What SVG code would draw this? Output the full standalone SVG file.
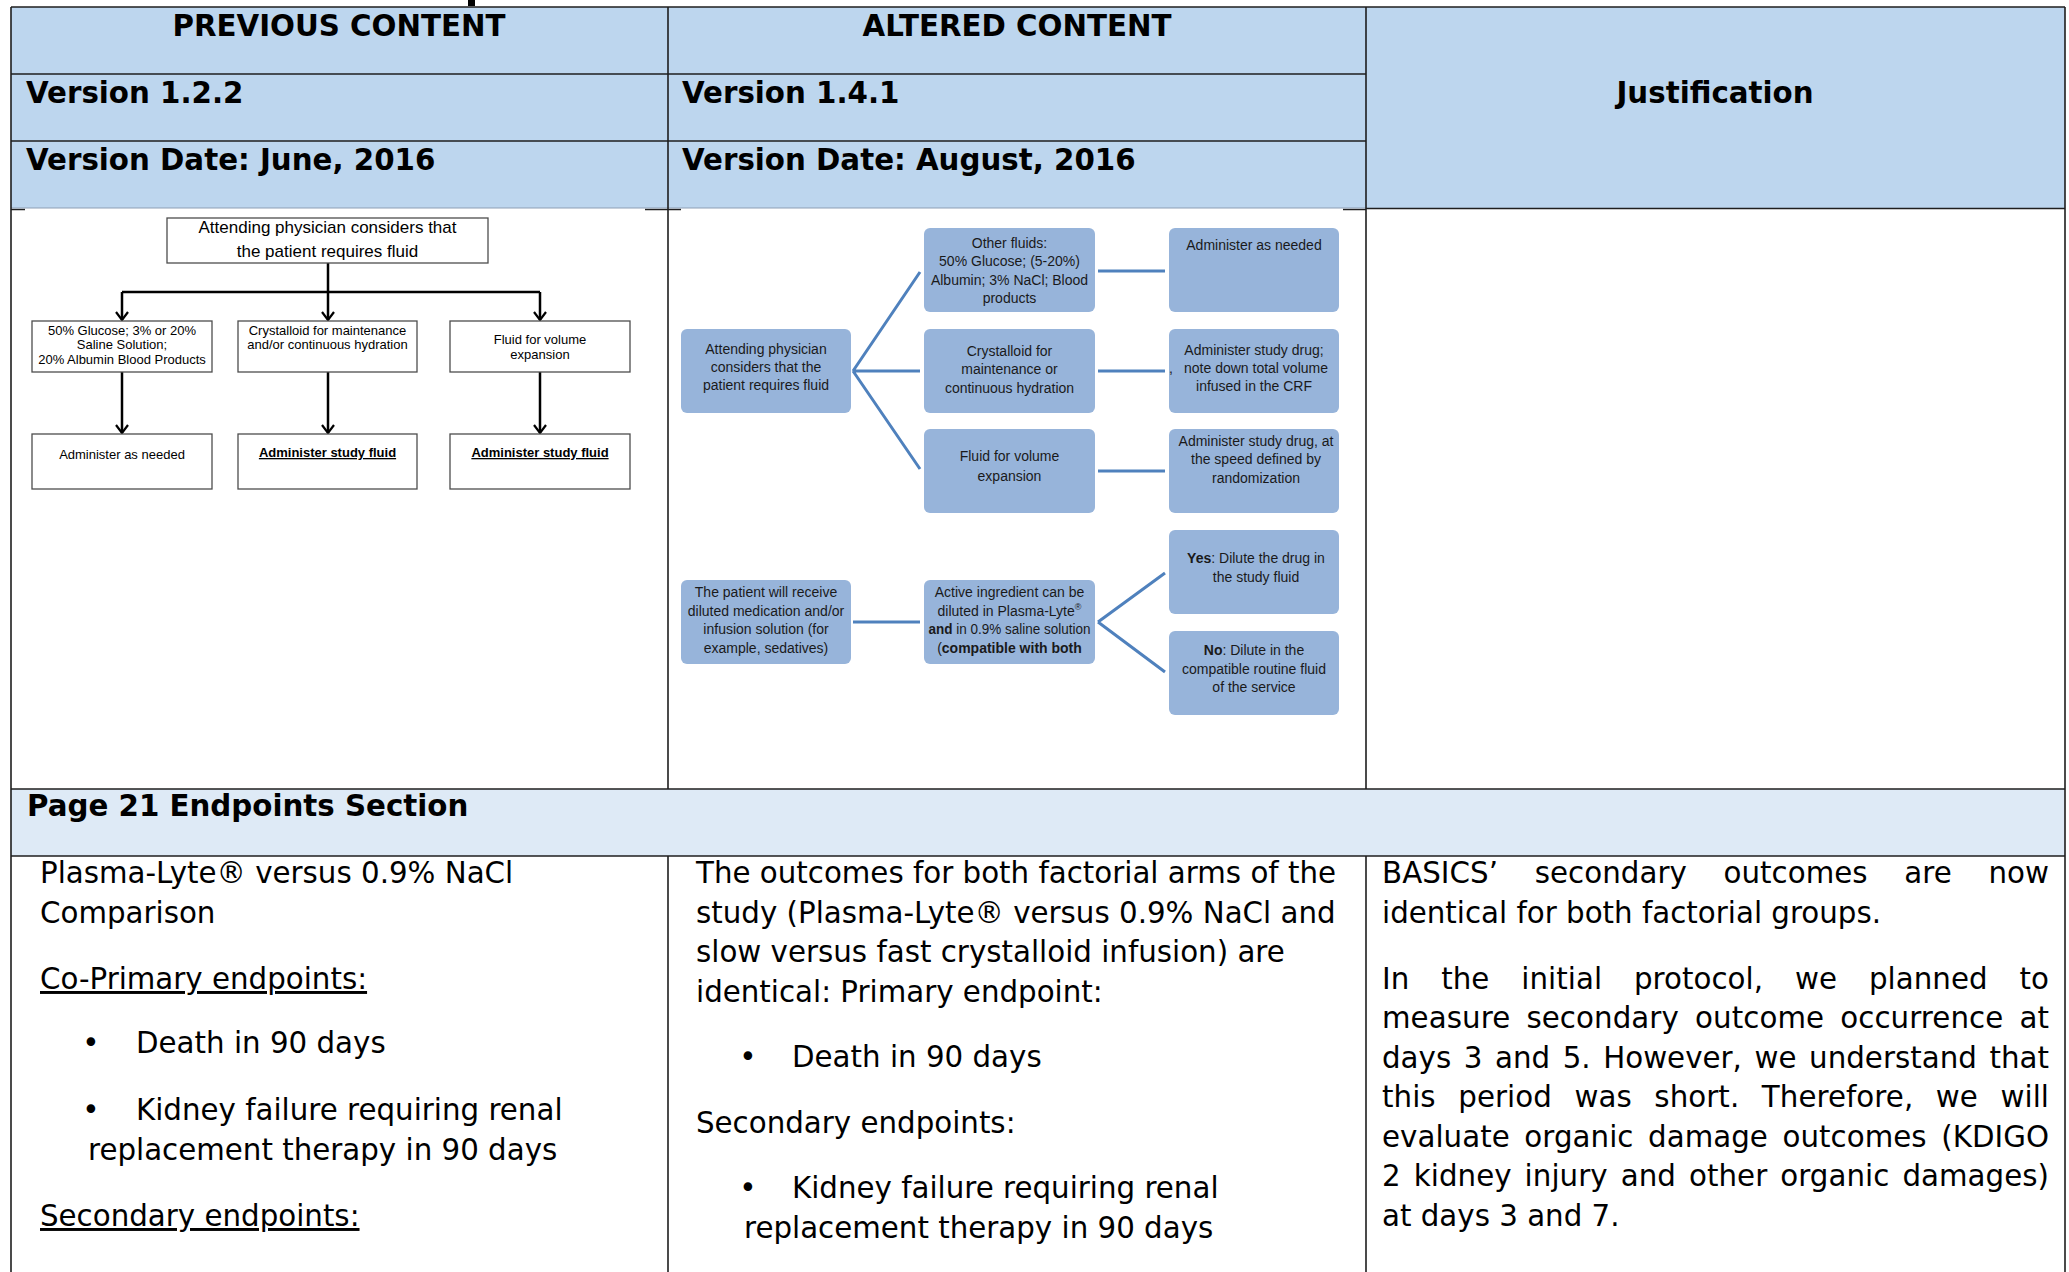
<svg xmlns="http://www.w3.org/2000/svg" width="2069" height="1272" viewBox="0 0 2069 1272">
<style>
.hdr{font-family:"DejaVu Sans","Liberation Sans",sans-serif;font-weight:bold;font-size:29.3px;fill:#000}
.body{font-family:"DejaVu Sans","Liberation Sans",sans-serif;font-size:29.3px;fill:#000}
.ul{text-decoration:underline}
.f1{font-family:"Liberation Sans",Arial,sans-serif;fill:#000;text-anchor:middle}
.f2{font-family:"Liberation Sans",Arial,sans-serif;font-size:14px;fill:#1a1a1a;text-anchor:middle}
.b1{fill:#fff;stroke:#4d4d4d;stroke-width:1.3}
.b2{fill:#97B4DA}
.c1{stroke:#000;stroke-width:2.5;fill:none}
.c2{stroke:#4F81BD;stroke-width:3;fill:none}
.grid{stroke:#1f1f1f;stroke-width:1.6;fill:none}
</style>
<defs>
<marker id="ah" viewBox="0 0 12 14" refX="11" refY="7" markerWidth="12" markerHeight="14" markerUnits="userSpaceOnUse" orient="auto">
<path d="M3,1 L11,7 L3,13" fill="none" stroke="#000" stroke-width="2.2"/>
</marker>
</defs>
<rect x="0" y="0" width="2069" height="1272" fill="#fff"/>
<rect x="468" y="0" width="7" height="6" fill="#000"/>

<g id="table">
<rect x="11" y="7" width="2054" height="201" fill="#BDD6EE"/>
<rect x="11" y="789" width="2054" height="67" fill="#DEEAF6"/>
<path class="grid" d="M11,7 H2065 M11,74 H1366 M11,141 H1366 M1366,208.5 H2065 M11,209.5 H25 M645,209.5 H681 M1343,209.5 H1366 M11,789 H2065 M11,856 H2065"/>
<path d="M11,208 H1366" stroke="#8d9fb5" stroke-width="1"/>
<path class="grid" d="M11,7 V1272 M2065,7 V1272 M668,7 V789 M668,856 V1272 M1366,7 V789 M1366,856 V1272"/>
</g>

<g id="header">
<text class="hdr" x="339" y="36" text-anchor="middle">PREVIOUS CONTENT</text>
<text class="hdr" x="1017" y="36" text-anchor="middle">ALTERED CONTENT</text>
<text class="hdr" x="26" y="103">Version 1.2.2</text>
<text class="hdr" x="26" y="170">Version Date: June, 2016</text>
<text class="hdr" x="682" y="103">Version 1.4.1</text>
<text class="hdr" x="682" y="170">Version Date: August, 2016</text>
<text class="hdr" x="1715" y="103" text-anchor="middle">Justification</text>
<text class="hdr" x="27" y="816">Page 21 Endpoints Section</text>
</g>

<g id="connectors">
<path class="c1" d="M328,263 V292 M122,292 H540"/>
<path class="c1" d="M122,292 V320" marker-end="url(#ah)"/>
<path class="c1" d="M328,292 V320" marker-end="url(#ah)"/>
<path class="c1" d="M540,292 V320" marker-end="url(#ah)"/>
<path class="c1" d="M122,372 V433" marker-end="url(#ah)"/>
<path class="c1" d="M328,372 V433" marker-end="url(#ah)"/>
<path class="c1" d="M540,372 V433" marker-end="url(#ah)"/>
<path class="c2" d="M853,371 L920,272 M853,371 L920,371 M853,371 L920,469"/>
<path class="c2" d="M1098,271 H1165 M1098,371 H1165 M1098,471 H1165"/>
<path class="c2" d="M853,622 H920"/>
<path class="c2" d="M1098,622 L1165,573 M1098,622 L1165,672"/>
</g>

<g id="old-start">
<rect class="b1" x="167" y="218" width="321" height="45"/>
<text class="f1" font-size="17" x="327.5" y="233">Attending physician considers that</text>
<text class="f1" font-size="17" x="327.5" y="257">the patient requires fluid</text>
</g>
<g id="old-other">
<rect class="b1" x="32" y="321" width="180" height="51"/>
<text class="f1" font-size="13" x="122" y="335">50% Glucose; 3% or 20%</text>
<text class="f1" font-size="13" x="122" y="349">Saline Solution;</text>
<text class="f1" font-size="13" x="122" y="364">20% Albumin Blood Products</text>
</g>
<g id="old-crystalloid">
<rect class="b1" x="238" y="321" width="179" height="51"/>
<text class="f1" font-size="13" x="327.5" y="335">Crystalloid for maintenance</text>
<text class="f1" font-size="13" x="327.5" y="349">and/or continuous hydration</text>
</g>
<g id="old-volume">
<rect class="b1" x="450" y="321" width="180" height="51"/>
<text class="f1" font-size="13" x="540" y="344">Fluid for volume</text>
<text class="f1" font-size="13" x="540" y="359">expansion</text>
</g>
<g id="old-admin-needed">
<rect class="b1" x="32" y="434" width="180" height="55"/>
<text class="f1" font-size="13" x="122" y="459">Administer as needed</text>
</g>
<g id="old-admin-study-1">
<rect class="b1" x="238" y="434" width="179" height="55"/>
<text class="f1 ul" font-size="13" font-weight="bold" x="327.5" y="457">Administer study fluid</text>
</g>
<g id="old-admin-study-2">
<rect class="b1" x="450" y="434" width="180" height="55"/>
<text class="f1 ul" font-size="13" font-weight="bold" x="540" y="457">Administer study fluid</text>
</g>

<g id="new-start">
<rect class="b2" x="681" y="329" width="170" height="84" rx="6"/>
<text class="f2" x="766" y="354">Attending physician</text>
<text class="f2" x="766" y="372">considers that the</text>
<text class="f2" x="766" y="390">patient requires fluid</text>
</g>
<g id="new-other">
<rect class="b2" x="924" y="228" width="171" height="84" rx="6"/>
<text class="f2" x="1009.5" y="248">Other fluids:</text>
<text class="f2" x="1009.5" y="266">50% Glucose; (5-20%)</text>
<text class="f2" x="1009.5" y="285">Albumin; 3% NaCl; Blood</text>
<text class="f2" x="1009.5" y="303">products</text>
</g>
<g id="new-crystalloid">
<rect class="b2" x="924" y="329" width="171" height="84" rx="6"/>
<text class="f2" x="1009.5" y="356">Crystalloid for</text>
<text class="f2" x="1009.5" y="374">maintenance or</text>
<text class="f2" x="1009.5" y="393">continuous hydration</text>
</g>
<g id="new-volume">
<rect class="b2" x="924" y="429" width="171" height="84" rx="6"/>
<text class="f2" x="1009.5" y="461">Fluid for volume</text>
<text class="f2" x="1009.5" y="481">expansion</text>
</g>
<g id="new-admin-needed">
<rect class="b2" x="1169" y="228" width="170" height="84" rx="6"/>
<text class="f2" x="1254" y="250">Administer as needed</text>
</g>
<g id="new-admin-crf">
<rect class="b2" x="1169" y="329" width="170" height="84" rx="6"/>
<text class="f2" x="1254" y="355">Administer study drug;</text>
<text class="f2" x="1171" y="373" text-anchor="start">,</text>
<text class="f2" x="1256" y="373">note down total volume</text>
<text class="f2" x="1254" y="391">infused in the CRF</text>
</g>
<g id="new-admin-speed">
<rect class="b2" x="1169" y="429" width="170" height="84" rx="6"/>
<text class="f2" x="1256" y="446">Administer study drug, at</text>
<text class="f2" x="1256" y="464">the speed defined by</text>
<text class="f2" x="1256" y="483">randomization</text>
</g>
<g id="new-diluted">
<rect class="b2" x="681" y="580" width="170" height="84" rx="6"/>
<text class="f2" x="766" y="597">The patient will receive</text>
<text class="f2" x="766" y="616">diluted medication and/or</text>
<text class="f2" x="766" y="634">infusion solution (for</text>
<text class="f2" x="766" y="653">example, sedatives)</text>
</g>
<g id="new-active">
<rect class="b2" x="924" y="580" width="171" height="84" rx="6"/>
<text class="f2" x="1009.5" y="597">Active ingredient can be</text>
<text class="f2" x="1009.5" y="616">diluted in Plasma-Lyte<tspan font-size="9" dy="-6">®</tspan></text>
<text class="f2" x="1009.5" y="634" textLength="162" lengthAdjust="spacingAndGlyphs"><tspan font-weight="bold">and</tspan> in 0.9% saline solution</text>
<text class="f2" x="1009.5" y="653">(<tspan font-weight="bold">compatible with both</tspan></text>
</g>
<g id="new-yes">
<rect class="b2" x="1169" y="530" width="170" height="84" rx="6"/>
<text class="f2" x="1256" y="563"><tspan font-weight="bold">Yes</tspan>: Dilute the drug in</text>
<text class="f2" x="1256" y="582">the study fluid</text>
</g>
<g id="new-no">
<rect class="b2" x="1169" y="631" width="170" height="84" rx="6"/>
<text class="f2" x="1254" y="655"><tspan font-weight="bold">No</tspan>: Dilute in the</text>
<text class="f2" x="1254" y="674">compatible routine fluid</text>
<text class="f2" x="1254" y="692">of the service</text>
</g>

<g id="previous-endpoints">
<text class="body" x="40" y="883">Plasma-Lyte® versus 0.9% NaCl</text>
<text class="body" x="40" y="923">Comparison</text>
<text class="body ul" x="40" y="989">Co-Primary endpoints:</text>
<text class="body" x="91" y="1053" text-anchor="middle">•</text>
<text class="body" x="136" y="1053">Death in 90 days</text>
<text class="body" x="91" y="1120" text-anchor="middle">•</text>
<text class="body" x="136" y="1120">Kidney failure requiring renal</text>
<text class="body" x="88" y="1160">replacement therapy in 90 days</text>
<text class="body ul" x="40" y="1226">Secondary endpoints:</text>
</g>

<g id="altered-endpoints">
<text class="body" x="696" y="883">The outcomes for both factorial arms of the</text>
<text class="body" x="696" y="923">study (Plasma-Lyte® versus 0.9% NaCl and</text>
<text class="body" x="696" y="962">slow versus fast crystalloid infusion) are</text>
<text class="body" x="696" y="1002">identical: Primary endpoint:</text>
<text class="body" x="748" y="1067" text-anchor="middle">•</text>
<text class="body" x="792" y="1067">Death in 90 days</text>
<text class="body" x="696" y="1133">Secondary endpoints:</text>
<text class="body" x="748" y="1198" text-anchor="middle">•</text>
<text class="body" x="792" y="1198">Kidney failure requiring renal</text>
<text class="body" x="744" y="1238">replacement therapy in 90 days</text>
</g>

<g id="justification">
<text class="body" x="1382" y="883" word-spacing="27.3" textLength="667" lengthAdjust="spacing">BASICS’ secondary outcomes are now</text>
<text class="body" x="1382" y="923">identical for both factorial groups.</text>
<text class="body" x="1382" y="989" word-spacing="22.5" textLength="667" lengthAdjust="spacing">In the initial protocol, we planned to</text>
<text class="body" x="1382" y="1028" word-spacing="6.8" textLength="667" lengthAdjust="spacing">measure secondary outcome occurrence at</text>
<text class="body" x="1382" y="1068" word-spacing="3.2" textLength="667" lengthAdjust="spacing">days 3 and 5. However, we understand that</text>
<text class="body" x="1382" y="1107" word-spacing="13.2" textLength="667" lengthAdjust="spacing">this period was short. Therefore, we will</text>
<text class="body" x="1382" y="1147" word-spacing="5.2" textLength="667" lengthAdjust="spacing">evaluate organic damage outcomes (KDIGO</text>
<text class="body" x="1382" y="1186" word-spacing="3.7" textLength="667" lengthAdjust="spacing">2 kidney injury and other organic damages)</text>
<text class="body" x="1382" y="1226">at days 3 and 7.</text>
</g>
</svg>
